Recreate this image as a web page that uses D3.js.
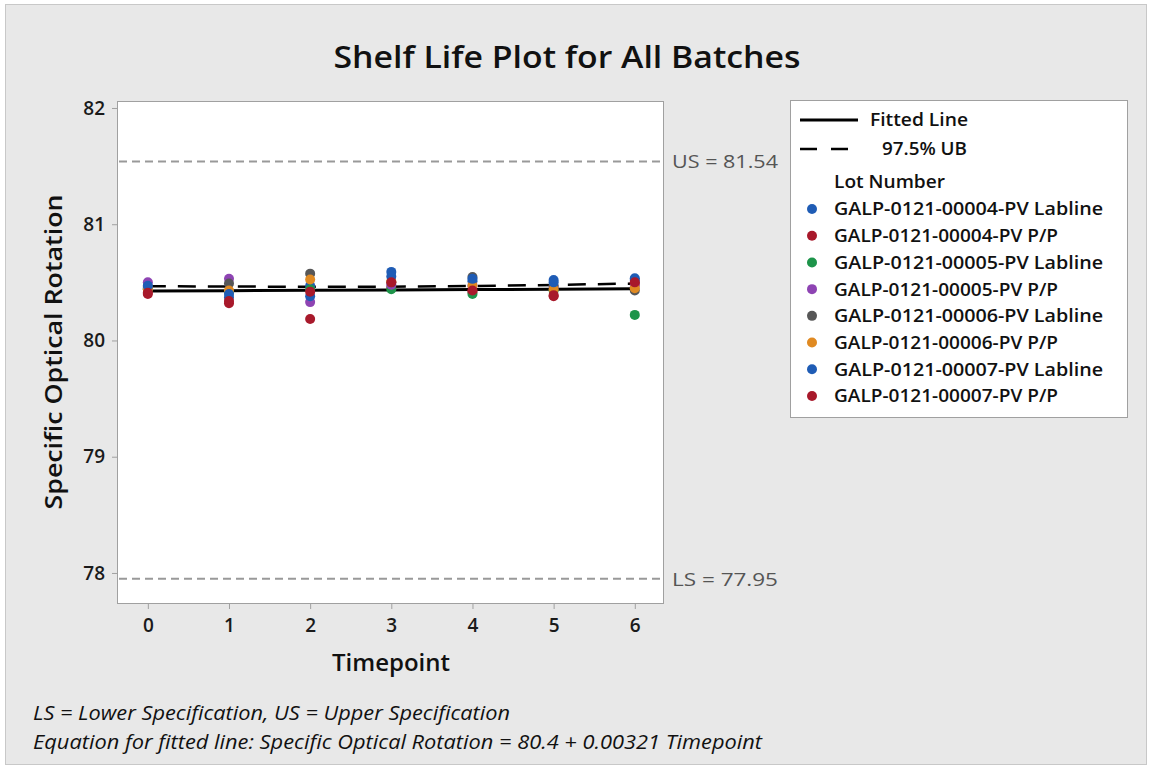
<!DOCTYPE html>
<html><head><meta charset="utf-8">
<script src="https://cdn.jsdelivr.net/npm/d3@7"></script>
<style>
html,body{margin:0;padding:0;background:#fff;}
svg{display:block;}
text{font-family:"Open Sans","Noto Sans",sans-serif;}
</style></head>
<body>
<svg id="chart" width="1151" height="769"></svg>
<script>
// ---- data ----
const timepoints = [0, 1, 2, 3, 4, 5, 6];
const lots = [
  "GALP-0121-00004-PV Labline",
  "GALP-0121-00004-PV P/P",
  "GALP-0121-00005-PV Labline",
  "GALP-0121-00005-PV P/P",
  "GALP-0121-00006-PV Labline",
  "GALP-0121-00006-PV P/P",
  "GALP-0121-00007-PV Labline",
  "GALP-0121-00007-PV P/P"
];
const lotColors = ["#1f5cb5", "#a8192b", "#1d944a", "#8e44b3", "#575757", "#e08a22", "#1f5cb5", "#a8192b"];
const lot1 = [80.45, 80.37, 80.47, 80.59, 80.51, 80.52, 80.535];
const lot2 = [80.40, 80.32, 80.185, 80.46, 80.42, 80.38, 80.49];
const lot3 = [80.44, 80.42, 80.44, 80.44, 80.40, 80.43, 80.22];
const lot4 = [80.50, 80.53, 80.33, 80.48, 80.47, 80.46, 80.47];
const lot5 = [80.46, 80.49, 80.575, 80.50, 80.545, 80.47, 80.43];
const lot6 = [80.44, 80.43, 80.525, 80.51, 80.47, 80.44, 80.45];
const lot7 = [80.47, 80.40, 80.38, 80.55, 80.53, 80.50, 80.52];
const lot8 = [80.41, 80.34, 80.42, 80.50, 80.43, 80.39, 80.50];
const lotValues = [lot1, lot2, lot3, lot4, lot5, lot6, lot7, lot8];
const fittedLine = [80.425, 80.428, 80.431, 80.435, 80.438, 80.441, 80.444];
const upperBound = [80.467, 80.464, 80.462, 80.463, 80.468, 80.478, 80.49];
const yTicks = [78, 79, 80, 81, 82];
const specUpper = 81.54, specLower = 77.95;
const specLabels = ["US = 81.54", "LS = 77.95"];

// ---- drawing ----
const svg = d3.select("#chart");
svg.append("rect").attr("x", 0).attr("y", 0).attr("width", 1151).attr("height", 769).attr("fill", "#fff");
svg.append("rect").attr("x", 5.5).attr("y", 4.5).attr("width", 1141).attr("height", 760)
  .attr("fill", "#e8e8e8").attr("stroke", "#c8c8c8").attr("stroke-width", 1);

const L = 117, R = 664, T = 101, B = 604;
const x = d3.scaleLinear().domain([-0.38, 6.36]).range([L, R]);
const y = d3.scaleLinear().domain([77.733, 82.06]).range([B, T]);

svg.append("rect").attr("x", L + 0.5).attr("y", T + 0.5).attr("width", R - L - 1).attr("height", B - T - 1)
  .attr("fill", "#fff").attr("stroke", "#a0a0a0").attr("stroke-width", 1);

// title
svg.append("text").attr("x", 567).attr("y", 68).attr("text-anchor", "middle")
  .attr("font-size", 30).attr("font-weight", 600).attr("fill", "#111")
  .attr("textLength", 467).attr("lengthAdjust", "spacingAndGlyphs")
  .text("Shelf Life Plot for All Batches");

// axes
const yAxis = d3.axisLeft(y).tickValues(yTicks).tickSize(5).tickPadding(7).tickFormat(d3.format("d"));
const gy = svg.append("g").attr("transform", `translate(${L},0)`).call(yAxis);
const xAxis = d3.axisBottom(x).tickValues(timepoints).tickSize(5).tickPadding(5).tickFormat(d3.format("d"));
const gx = svg.append("g").attr("transform", `translate(0,${B})`).call(xAxis);
[gy, gx].forEach(g => {
  g.select(".domain").remove();
  g.selectAll(".tick line").attr("stroke", "#a0a0a0");
  g.selectAll(".tick text").attr("font-size", 19).attr("font-weight", 600).attr("fill", "#1a1a1a")
    .attr("font-family", "'Open Sans','Noto Sans',sans-serif");
});
gx.selectAll(".tick text").attr("dy", "0.95em");

// axis titles
svg.append("text").attr("x", 391).attr("y", 671).attr("text-anchor", "middle")
  .attr("font-size", 24).attr("font-weight", 600).attr("fill", "#111").text("Timepoint");
svg.append("text").attr("transform", "translate(62,352) rotate(-90)").attr("text-anchor", "middle")
  .attr("font-size", 24).attr("font-weight", 600).attr("fill", "#111")
  .attr("textLength", 315).attr("lengthAdjust", "spacingAndGlyphs")
  .text("Specific Optical Rotation");

// spec lines
[specUpper, specLower].forEach((v, i) => {
  svg.append("line").attr("x1", L + 2).attr("x2", R - 2).attr("y1", y(v)).attr("y2", y(v))
    .attr("stroke", "#999").attr("stroke-width", 2).attr("stroke-dasharray", "8,5");
  svg.append("text").attr("x", 672).attr("y", y(v)).attr("dy", "0.36em")
    .attr("font-size", 19).attr("fill", "#555")
    .attr("textLength", 106).attr("lengthAdjust", "spacingAndGlyphs").text(specLabels[i]);
});

// fitted & UB lines
const line = d3.line().x((d, i) => x(timepoints[i])).y(d => y(d));
svg.append("path").datum(fittedLine).attr("d", line).attr("fill", "none")
  .attr("stroke", "#000").attr("stroke-width", 3);
svg.append("path").datum(upperBound).attr("d", line).attr("fill", "none")
  .attr("stroke", "#000").attr("stroke-width", 2.5).attr("stroke-dasharray", "18,12");

// points
lotValues.forEach((vals, li) => {
  svg.append("g").selectAll("circle").data(vals).join("circle")
    .attr("cx", (d, i) => x(timepoints[i])).attr("cy", d => y(d)).attr("r", 5)
    .attr("fill", lotColors[li]);
});

// legend
const legText = (g, xx, yy, s, len) => g.append("text").attr("x", xx).attr("y", yy).attr("dy", "0.36em")
  .attr("font-size", 18).attr("font-weight", 600).attr("fill", "#111")
  .attr("textLength", len).attr("lengthAdjust", "spacingAndGlyphs").text(s);
const lg = svg.append("g");
lg.append("rect").attr("x", 790.5).attr("y", 100.5).attr("width", 337).attr("height", 317)
  .attr("fill", "#fff").attr("stroke", "#a0a0a0");
lg.append("line").attr("x1", 800).attr("x2", 858).attr("y1", 120).attr("y2", 120).attr("stroke", "#000").attr("stroke-width", 3);
legText(lg, 870, 120, "Fitted Line", 98);
lg.append("line").attr("x1", 800).attr("x2", 855).attr("y1", 149).attr("y2", 149).attr("stroke", "#000").attr("stroke-width", 2.5).attr("stroke-dasharray", "17,14");
legText(lg, 882, 149, "97.5% UB", 85);
legText(lg, 834, 182, "Lot Number", 111);
const legY = d3.scalePoint().domain(lots.map((d, i) => i)).range([209, 396]);
lots.forEach((name, i) => {
  lg.append("circle").attr("cx", 812).attr("cy", legY(i)).attr("r", 5).attr("fill", lotColors[i]);
  legText(lg, 834, legY(i), name, name.endsWith("Labline") ? 269 : 224);
});

// footnotes
svg.append("text").attr("x", 33).attr("y", 720).attr("font-size", 20).attr("font-style", "italic")
  .attr("fill", "#111").attr("textLength", 477).attr("lengthAdjust", "spacingAndGlyphs")
  .text("LS = Lower Specification, US = Upper Specification");
svg.append("text").attr("x", 33).attr("y", 749).attr("font-size", 20).attr("font-style", "italic")
  .attr("fill", "#111").attr("textLength", 729).attr("lengthAdjust", "spacingAndGlyphs")
  .text("Equation for fitted line: Specific Optical Rotation = 80.4 + 0.00321 Timepoint");
</script>
</body></html>
